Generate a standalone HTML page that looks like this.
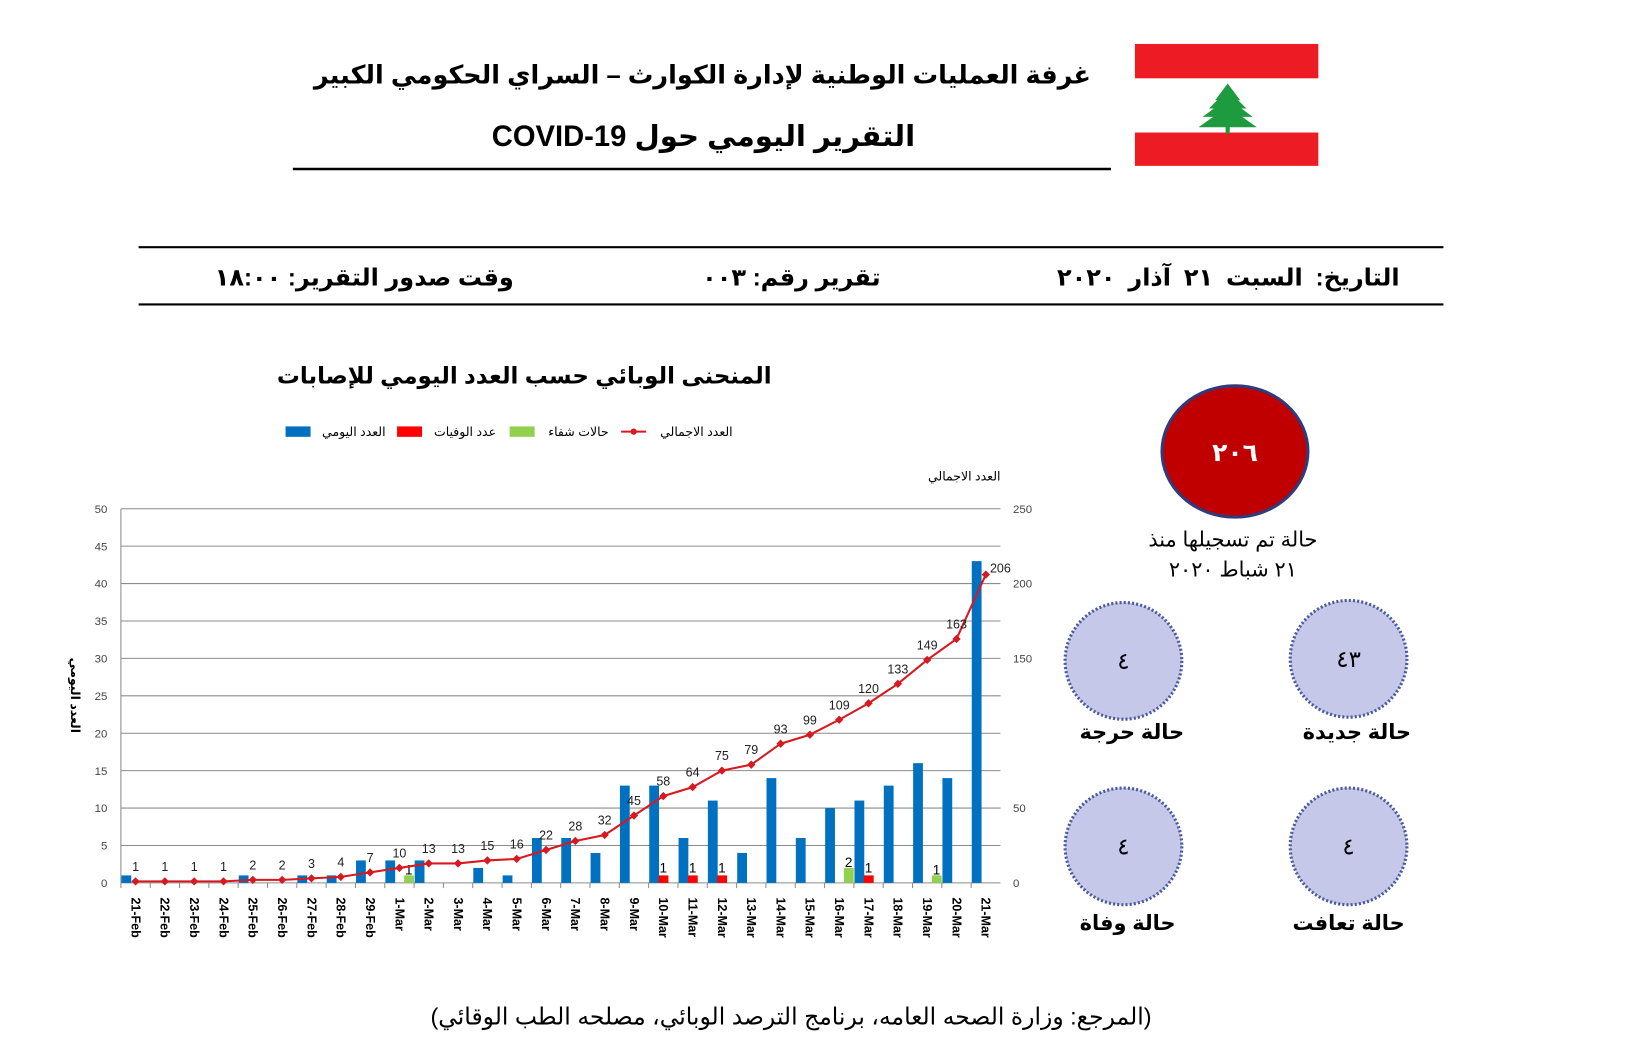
<!DOCTYPE html>
<html><head><meta charset="utf-8"><style>
html,body{margin:0;padding:0;background:#fff;}
svg{display:block}
text{font-family:"Liberation Sans","DejaVu Sans",sans-serif}
</style></head><body>
<svg id="s" xmlns="http://www.w3.org/2000/svg" width="1631" height="1055" viewBox="0 0 1565 1012">
<rect width="1565" height="1012" fill="#fff"/>
<g font-weight="bold" text-anchor="middle" fill="#000">
<text x="674" y="80" font-size="24.5" direction="rtl">غرفة العمليات الوطنية لإدارة الكوارث – السراي الحكومي الكبير</text>
<text x="675" y="140" font-size="28" direction="rtl">التقرير اليومي حول COVID-19</text>
</g>
<line x1="281" y1="162" x2="1066" y2="162" stroke="#000" stroke-width="2.5"/>
<rect x="1089" y="42" width="176" height="33" fill="#ed1c24"/>
<rect x="1089" y="127" width="176" height="32" fill="#ed1c24"/>
<g fill="#1e9b3e">
<polygon points="1178,80 1166,96 1190,96"/>
<polygon points="1178,86 1160,104 1196,104"/>
<polygon points="1178,94 1154,112 1202,112"/>
<polygon points="1178,102 1150,122 1206,122"/>
<rect x="1176" y="118" width="4" height="10"/>
</g>
<line x1="133" y1="237" x2="1385" y2="237" stroke="#000" stroke-width="2"/>
<line x1="133" y1="292" x2="1385" y2="292" stroke="#000" stroke-width="2"/>
<g font-weight="bold" font-size="23" fill="#000" direction="rtl">
<text x="1343" y="274" text-anchor="start" word-spacing="6">التاريخ: السبت ٢١ آذار ٢٠٢٠</text>
<text x="845" y="274" text-anchor="start">تقرير رقم: ٠٠٣</text>
<text x="493" y="274" text-anchor="start">وقت صدور التقرير: ١٨:٠٠</text>
</g>
<text x="503" y="368" font-size="22" font-weight="bold" text-anchor="middle" direction="rtl">المنحنى الوبائي حسب العدد اليومي للإصابات</text>
<g font-size="12" fill="#000" direction="rtl" text-anchor="start">
<text x="703" y="418">العدد الاجمالي</text>
<line x1="596" y1="414" x2="620" y2="414" stroke="#d71920" stroke-width="2"/><circle cx="608" cy="414" r="3" fill="#d71920"/>
<text x="584" y="418">حالات شفاء</text><rect x="489" y="409" width="24" height="10" fill="#92d050"/>
<text x="476" y="418">عدد الوفيات</text><rect x="381" y="409" width="24" height="10" fill="#ff0000"/>
<text x="370" y="418">العدد اليومي</text><rect x="274" y="409" width="24" height="10" fill="#0070c0"/>
<text x="960" y="461" font-size="12">العدد الاجمالي</text>
</g>
<text transform="translate(68,667) rotate(90)" font-size="12" font-weight="bold" text-anchor="middle">العدد اليومي</text>
<g id="chart"></g>
<ellipse cx="1185" cy="433" rx="70" ry="63" fill="#c00000" stroke="#2f3b7a" stroke-width="3"/>
<text x="1185" y="442" fill="#fff" font-size="24" font-weight="bold" text-anchor="middle">٢٠٦</text>
<text x="1183" y="524" font-size="20" text-anchor="middle" direction="rtl">حالة تم تسجيلها منذ</text>
<text x="1183" y="553" font-size="20" text-anchor="middle" direction="rtl">٢١ شباط ٢٠٢٠</text>
<g fill="#c5c8e8" stroke="#4a5aa0" stroke-width="3" stroke-dasharray="2,2">
<circle cx="1078" cy="634" r="56"/><circle cx="1294" cy="632" r="56"/>
<circle cx="1078" cy="812" r="56"/><circle cx="1294" cy="812" r="56"/>
</g>
<g font-size="22" text-anchor="middle">
<text x="1078" y="642">٤</text><text x="1294" y="640">٤٣</text>
<text x="1078" y="820">٤</text><text x="1294" y="820">٤</text>
</g>
<g font-size="20" font-weight="bold" text-anchor="middle" direction="rtl">
<text x="1086" y="709">حالة حرجة</text><text x="1302" y="709">حالة جديدة</text>
<text x="1082" y="892">حالة وفاة</text><text x="1294" y="892">حالة تعافت</text>
</g>
<text x="759" y="983" font-size="22.5" text-anchor="middle" direction="rtl">(المرجع: وزارة الصحه العامه، برنامج الترصد الوبائي، مصلحه الطب الوقائي)</text>
</svg>
<script>
(function(){
var g=document.getElementById('chart'),h='';
var L=116,R=960,T=488,B=847,W=(R-L)/30;
var labels=['21-Feb','22-Feb','23-Feb','24-Feb','25-Feb','26-Feb','27-Feb','28-Feb','29-Feb'];
for(var i=1;i<=21;i++)labels.push(i+'-Mar');
var daily=[1,0,0,0,1,0,1,1,3,3,3,0,2,1,6,6,4,13,13,6,11,4,14,6,10,11,13,16,14,43];
var cum=[1,1,1,1,2,2,3,4,7,10,13,13,15,16,22,28,32,45,58,64,75,79,93,99,109,120,133,149,163,206];
var deaths={18:1,19:1,20:1,25:1},rec={9:1,24:2,27:1};
for(var v=0;v<=50;v+=5){var y=B-v*7.18;
h+='<line x1="'+L+'" y1="'+y+'" x2="'+R+'" y2="'+y+'" stroke="#8c8c8c" stroke-width="1"/>';
h+='<text x="103" y="'+(y+4)+'" font-size="11" fill="#444" text-anchor="end">'+v+'</text>';}
[0,50,150,200,250].forEach(function(v){var y=B-v*359/250;h+='<text x="972" y="'+(y+4)+'" font-size="11" fill="#444">'+v+'</text>';});
h+='<line x1="'+L+'" y1="'+T+'" x2="'+L+'" y2="'+B+'" stroke="#8c8c8c"/>';
var pts=[];
for(var i=0;i<30;i++){var c=L+W*(i+0.5);
h+='<line x1="'+(L+W*i)+'" y1="'+B+'" x2="'+(L+W*i)+'" y2="'+(B+5)+'" stroke="#8c8c8c"/>';
if(daily[i])h+='<rect x="'+(c-13.5)+'" y="'+(B-daily[i]*7.18)+'" width="9.4" height="'+(daily[i]*7.18)+'" fill="#0070c0"/>';
if(deaths[i]){h+='<rect x="'+(c-4.5)+'" y="'+(B-deaths[i]*7.18)+'" width="9.4" height="'+(deaths[i]*7.18)+'" fill="#ff0000"/>';
h+='<text x="'+c+'" y="'+(B-10)+'" font-size="13" text-anchor="middle">'+deaths[i]+'</text>';}
if(rec[i]){h+='<rect x="'+(c+4.5)+'" y="'+(B-rec[i]*7.18)+'" width="9.4" height="'+(rec[i]*7.18)+'" fill="#92d050"/>';
h+='<text x="'+(c+9)+'" y="'+(B-rec[i]*7.18-1)+'" font-size="13" text-anchor="middle">'+rec[i]+'</text>';}
var y=B-cum[i]*359/250;pts.push(c+','+y);
h+='<text transform="translate('+(c-4)+','+(B+14)+') rotate(90)" font-size="12" font-weight="bold">'+labels[i]+'</text>';
}
h+='<polyline points="'+pts.join(' ')+'" fill="none" stroke="#d71920" stroke-width="2"/>';
for(var i=0;i<30;i++){var c=L+W*(i+0.5),y=B-cum[i]*359/250;
h+='<polygon points="'+c+','+(y-4)+' '+(c+4)+','+y+' '+c+','+(y+4)+' '+(c-4)+','+y+'" fill="#d71920"/>';
var tx=i==29?c+14:c,ty=i==29?y-2:y-10;
h+='<text x="'+tx+'" y="'+ty+'" font-size="12" fill="#222" text-anchor="middle">'+cum[i]+'</text>';}
g.innerHTML=h;
})();
</script>
</body></html>
